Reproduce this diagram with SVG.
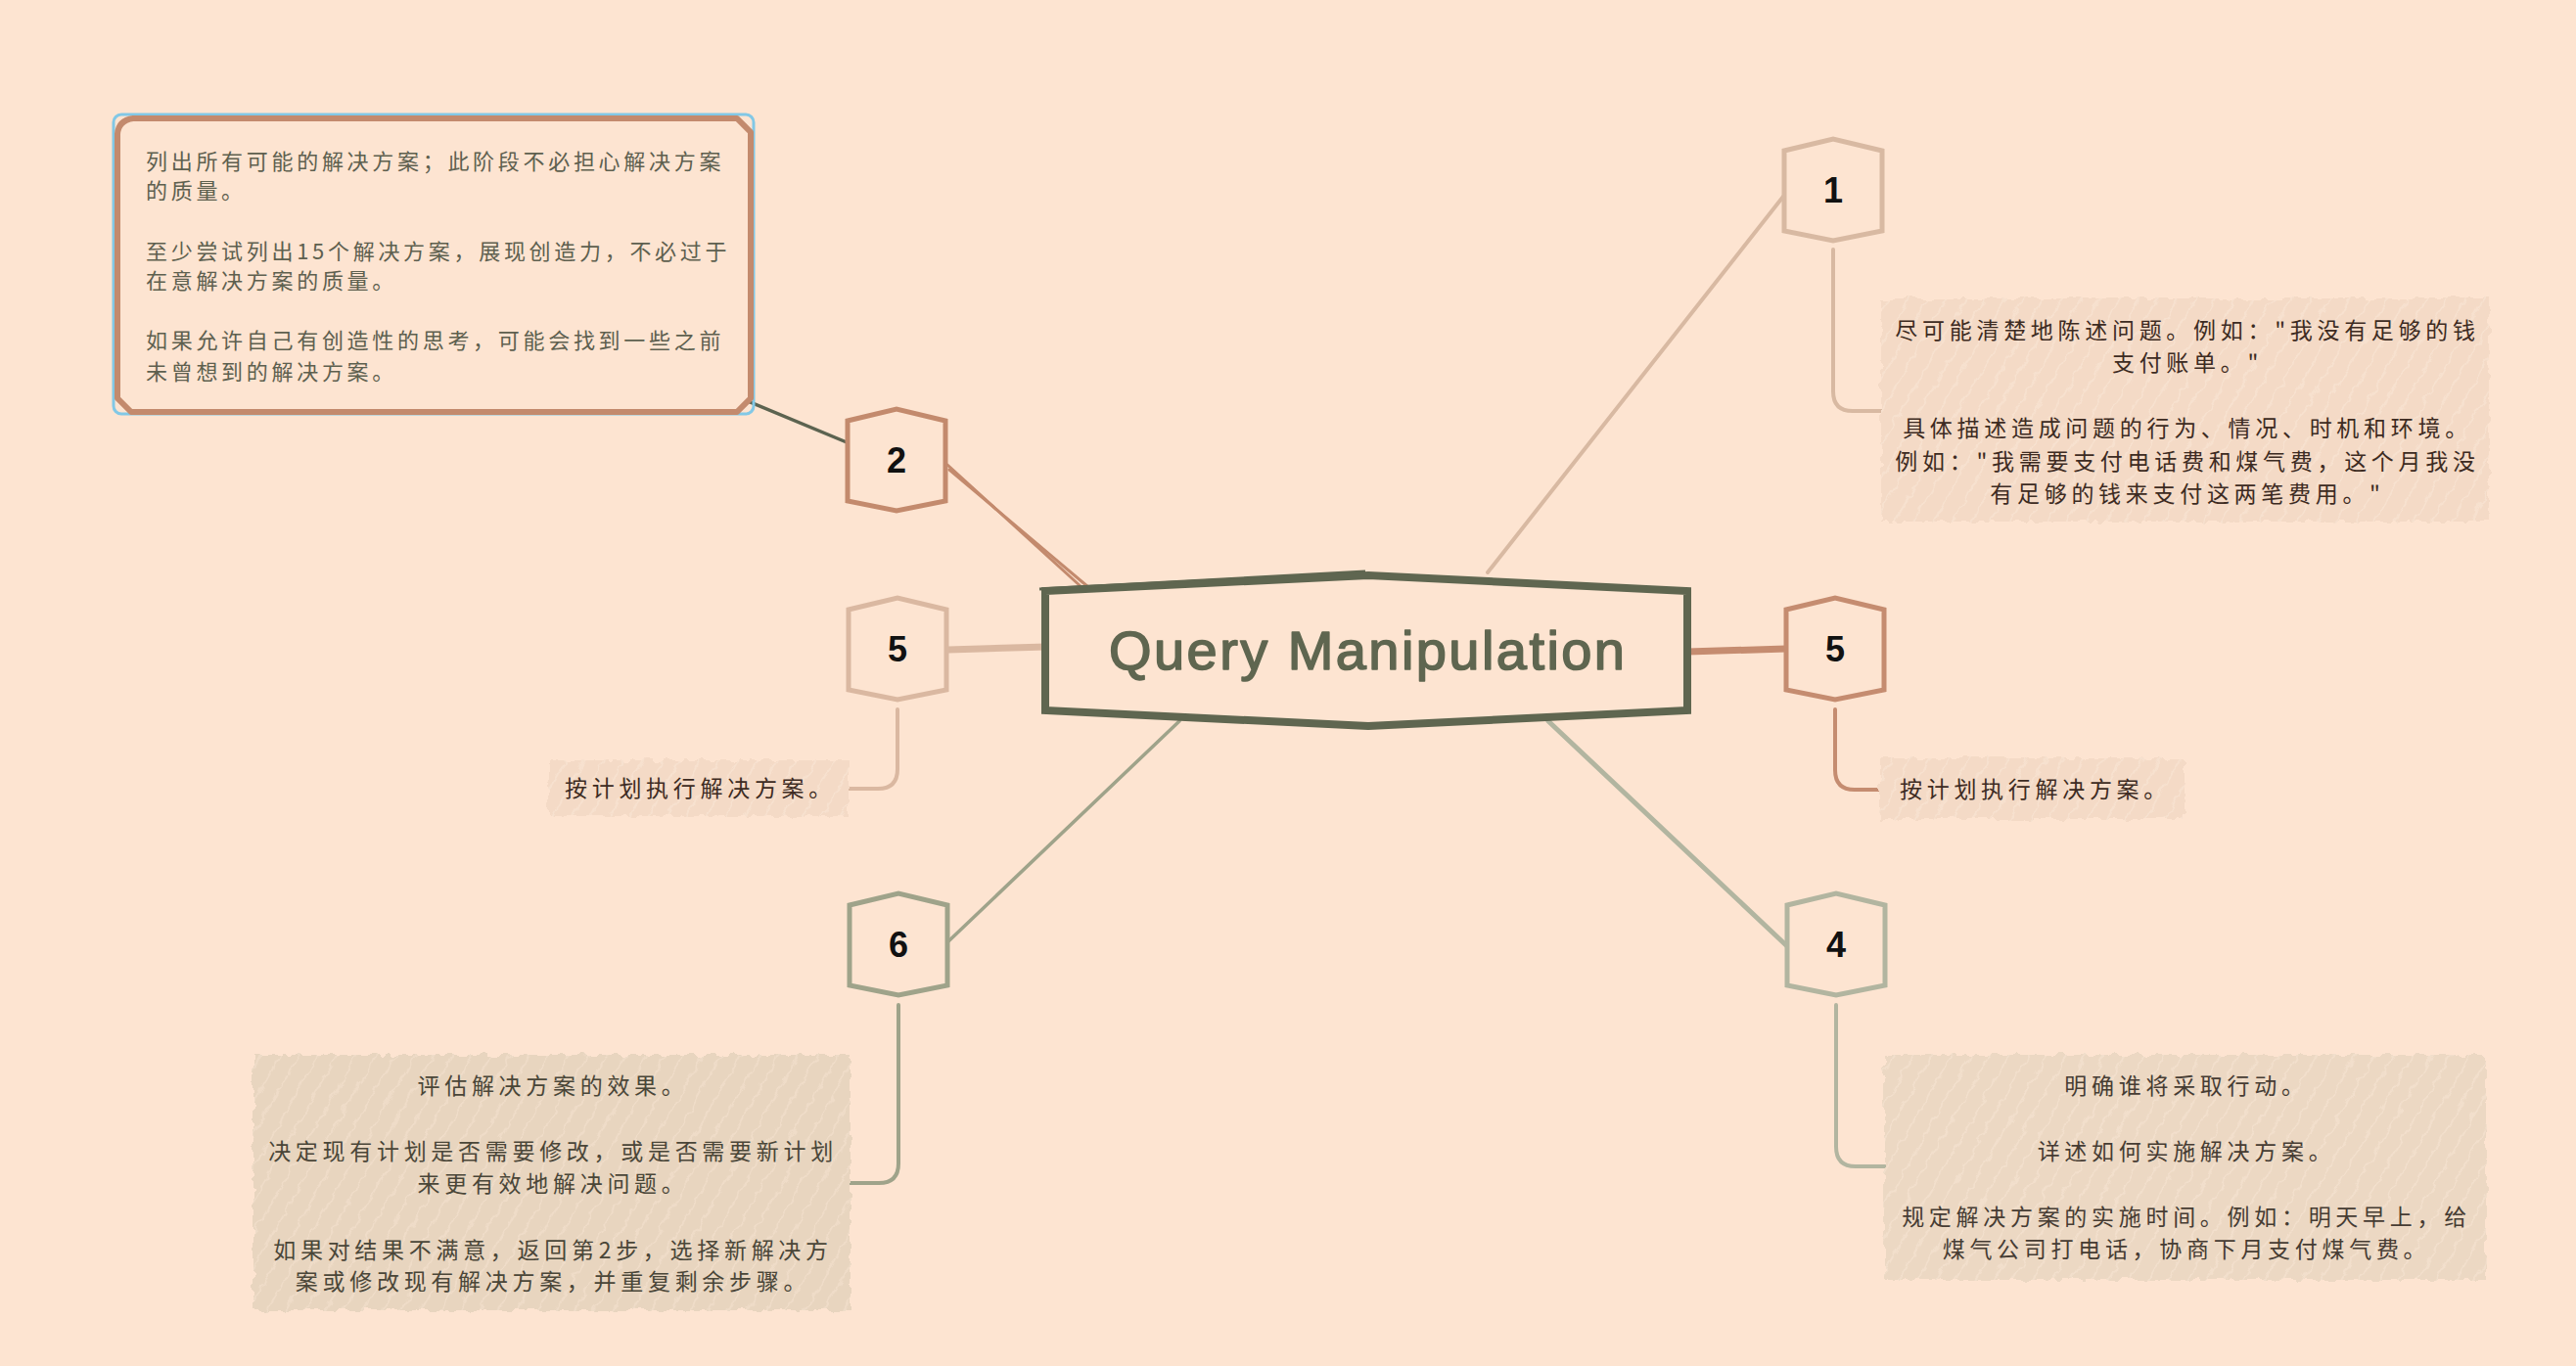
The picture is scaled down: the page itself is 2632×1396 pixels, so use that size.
<svg xmlns="http://www.w3.org/2000/svg" width="2632" height="1396" viewBox="0 0 2632 1396">
<defs>
<style>
.bg{fill:#FDE4D1}
.conn{fill:none;stroke-linecap:round;stroke-linejoin:round}
.num{font-family:"Liberation Sans","DejaVu Sans",sans-serif;font-weight:bold;font-size:36px;fill:#111;text-anchor:middle}
.cjk{font-family:"Noto Sans CJK SC","Noto Sans",sans-serif;font-size:23px;letter-spacing:4.7px}
.mid{text-anchor:middle}
.b2{font-size:22px;letter-spacing:3.7px;fill:#5E604F}
.node{fill:#FDE4D1;stroke-width:5;stroke-linejoin:miter}
</style>
<filter id="rough" x="-5%" y="-15%" width="110%" height="130%">
<feTurbulence type="fractalNoise" baseFrequency="0.09" numOctaves="2" seed="4" result="n"/>
<feDisplacementMap in="SourceGraphic" in2="n" scale="10" xChannelSelector="R" yChannelSelector="G"/>
</filter>
<pattern id="hPink" width="17" height="17" patternUnits="userSpaceOnUse" patternTransform="rotate(30)">
<rect width="17" height="17" fill="#F4DAC6"/>
<line x1="5" y1="0" x2="5" y2="17" stroke="#F9E5D5" stroke-width="1.3"/>
</pattern>
<pattern id="hGreen" width="17" height="17" patternUnits="userSpaceOnUse" patternTransform="rotate(30)">
<rect width="17" height="17" fill="#E8D5BF"/>
<line x1="5" y1="0" x2="5" y2="17" stroke="#F3E1CE" stroke-width="1.3"/>
</pattern>
<pattern id="hGreen2" width="17" height="17" patternUnits="userSpaceOnUse" patternTransform="rotate(30)">
<rect width="17" height="17" fill="#ECD8C3"/>
<line x1="5" y1="0" x2="5" y2="17" stroke="#F6E3D1" stroke-width="1.3"/>
</pattern>
<path id="hex" d="M-50,-40 L0,-52 L50,-40 L50,42 L0,52 L-50,42 Z"/>
</defs>

<rect class="bg" x="0" y="0" width="2632" height="1396"/>

<g id="connectors">
<line class="conn" x1="1520" y1="585" x2="1825" y2="197" stroke="#D8B9A2" stroke-width="4"/>
<line class="conn" x1="968" y1="475" x2="1105" y2="600" stroke="#C38A6D" stroke-width="3"/>
<line class="conn" x1="970" y1="480" x2="1112" y2="600" stroke="#C38A6D" stroke-width="3"/>
<line class="conn" x1="969" y1="664" x2="1069" y2="661" stroke="#DAB8A1" stroke-width="7"/>
<line class="conn" x1="1724" y1="666" x2="1825" y2="663" stroke="#C58C70" stroke-width="7"/>
<line class="conn" x1="1205" y1="737" x2="968" y2="963" stroke="#9FA38A" stroke-width="3.5"/>
<line class="conn" x1="1582" y1="737" x2="1826" y2="967" stroke="#B2B5A0" stroke-width="5"/>
<line class="conn" x1="865" y1="452" x2="762" y2="409" stroke="#5C6350" stroke-width="3.5"/>
<path class="conn" d="M1873,255 L1873,400 Q1873,420 1893,420 L1925,420" stroke="#D8B9A2" stroke-width="4"/>
<path class="conn" d="M917,725 L917,786 Q917,806 897,806 L866,806" stroke="#DAB8A1" stroke-width="4"/>
<path class="conn" d="M1875,725 L1875,787 Q1875,807 1895,807 L1929,807" stroke="#C58C70" stroke-width="4"/>
<path class="conn" d="M918,1027 L918,1189 Q918,1209 898,1209 L868,1209" stroke="#9FA38A" stroke-width="4"/>
<path class="conn" d="M1876,1027 L1876,1172 Q1876,1192 1896,1192 L1926,1192" stroke="#B2B5A0" stroke-width="4"/>
</g>

<g id="central">
<path d="M1068,604 L1398,588 L1724,604 L1724,726 L1398,742 L1068,726 Z" fill="#FDE4D1" stroke="#5F6650" stroke-width="8" stroke-linejoin="miter"/>
<path d="M1062,602 L1395,584" fill="none" stroke="#5F6650" stroke-width="3"/>
<text x="1133" y="684" font-family="Liberation Sans, Arial, sans-serif" font-size="56" fill="#5F6650" stroke="#5F6650" stroke-width="1.6" stroke-linejoin="round" textLength="527" lengthAdjust="spacing">Query Manipulation</text>
</g>

<g id="node-1">
<use href="#hex" x="1873" y="194" class="node" stroke="#D8B9A2"/>
<text class="num" x="1873" y="207">1</text>
</g>
<g id="node-2">
<use href="#hex" x="916" y="470" class="node" stroke="#C38A6D"/>
<text class="num" x="916" y="483">2</text>
</g>
<g id="node-5-left">
<use href="#hex" x="917" y="663" class="node" stroke="#DAB8A1"/>
<text class="num" x="917" y="676">5</text>
</g>
<g id="node-5-right">
<use href="#hex" x="1875" y="663" class="node" stroke="#C58C70"/>
<text class="num" x="1875" y="676">5</text>
</g>
<g id="node-6">
<use href="#hex" x="918" y="965" class="node" stroke="#9FA38A"/>
<text class="num" x="918" y="978">6</text>
</g>
<g id="node-4">
<use href="#hex" x="1876" y="965" class="node" stroke="#B2B5A0"/>
<text class="num" x="1876" y="978">4</text>
</g>

<g id="note-2">
<rect x="116" y="117" width="654" height="306" rx="8" fill="none" stroke="#82C8E6" stroke-width="3"/>
<path d="M136,121 L753,121 L767,135 L767,407 L753,421 L134,421 L120,407 L120,137 Q121,123 136,121 Z" fill="#FDE4D1" stroke="#C38A6D" stroke-width="6" stroke-linejoin="round"/>
<text class="cjk b2" x="149" y="173">列出所有可能的解决方案；此阶段不必担心解决方案</text>
<text class="cjk b2" x="149" y="203">的质量。</text>
<text class="cjk b2" x="149" y="265">至少尝试列出15个解决方案，展现创造力，不必过于</text>
<text class="cjk b2" x="149" y="295">在意解决方案的质量。</text>
<text class="cjk b2" x="149" y="356">如果允许自己有创造性的思考，可能会找到一些之前</text>
<text class="cjk b2" x="149" y="388">未曾想到的解决方案。</text>
</g>

<g id="note-1">
<rect x="1922" y="305" width="621" height="228" fill="url(#hPink)" filter="url(#rough)"/>
<g class="cjk mid" fill="#3D2B22">
<text x="2235" y="346">尽可能清楚地陈述问题。例如："我没有足够的钱</text>
<text x="2235" y="379">支付账单。"</text>
<text x="2235" y="446">具体描述造成问题的行为、情况、时机和环境。</text>
<text x="2235" y="480">例如："我需要支付电话费和煤气费，这个月我没</text>
<text x="2235" y="513">有足够的钱来支付这两笔费用。"</text>
</g>
</g>

<g id="note-5-left">
<rect x="561" y="777" width="306" height="57" fill="url(#hPink)" filter="url(#rough)"/>
<text class="cjk" x="577" y="814" fill="#3D2B22">按计划执行解决方案。</text>
</g>

<g id="note-5-right">
<rect x="1921" y="775" width="311" height="62" fill="url(#hPink)" filter="url(#rough)"/>
<text class="cjk" x="1941" y="815" fill="#3D2B22">按计划执行解决方案。</text>
</g>

<g id="note-6">
<rect x="259" y="1078" width="610" height="261" fill="url(#hGreen)" filter="url(#rough)"/>
<g class="cjk mid" fill="#4A4638">
<text x="565" y="1118">评估解决方案的效果。</text>
<text x="565" y="1185">决定现有计划是否需要修改，或是否需要新计划</text>
<text x="565" y="1218">来更有效地解决问题。</text>
<text x="565" y="1286">如果对结果不满意，返回第2步，选择新解决方</text>
<text x="565" y="1318">案或修改现有解决方案，并重复剩余步骤。</text>
</g>
</g>

<g id="note-4">
<rect x="1925" y="1078" width="615" height="230" fill="url(#hGreen2)" filter="url(#rough)"/>
<g class="cjk mid" fill="#463C33">
<text x="2234" y="1118">明确谁将采取行动。</text>
<text x="2234" y="1185">详述如何实施解决方案。</text>
<text x="2234" y="1252">规定解决方案的实施时间。例如：明天早上，给</text>
<text x="2234" y="1285">煤气公司打电话，协商下月支付煤气费。</text>
</g>
</g>
</svg>
